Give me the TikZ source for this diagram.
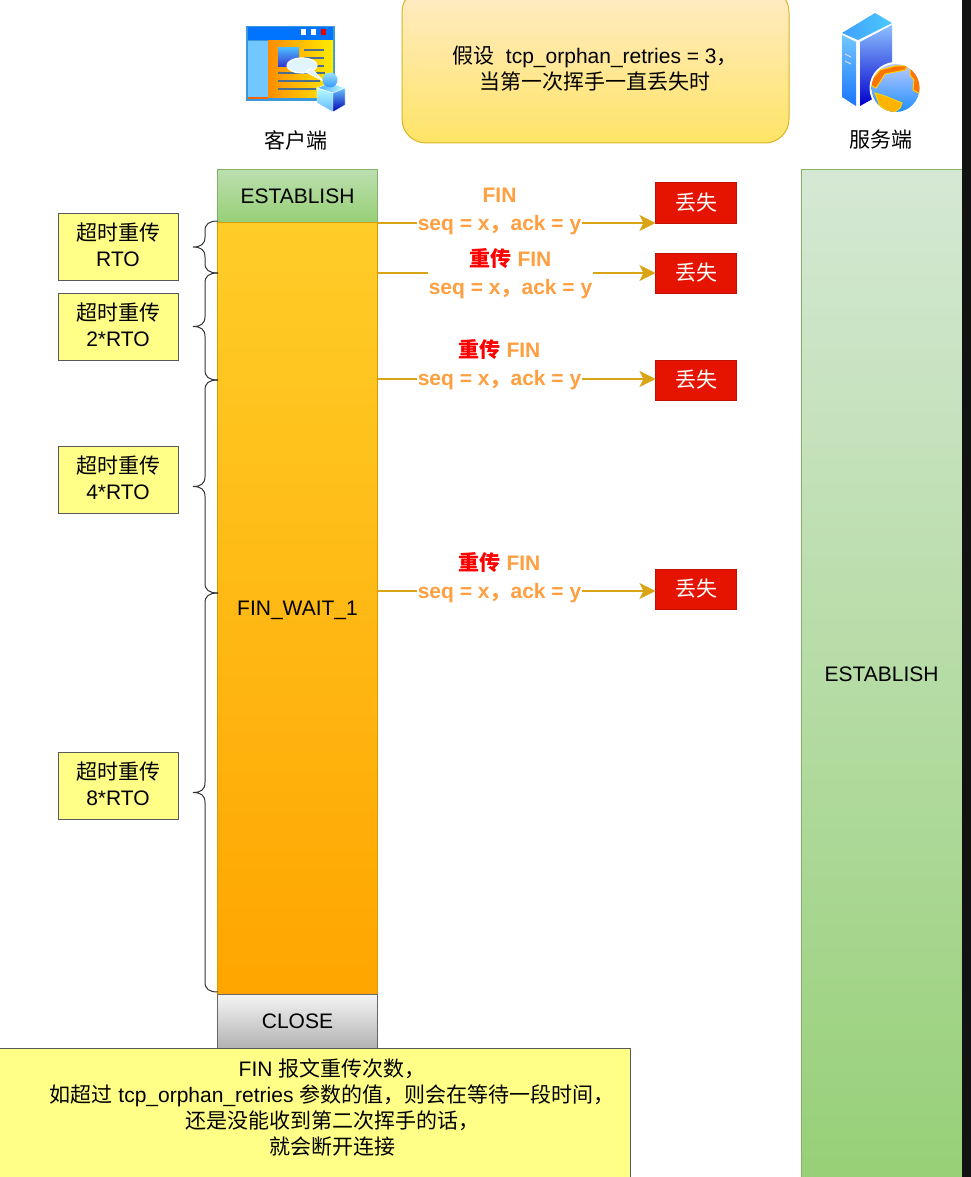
\documentclass[tikz,border=0pt]{standalone}
\usepackage{fontspec}
\setmainfont{Liberation Sans}
\newfontfamily\cjk{Noto Sans CJK SC}
\usepackage{tikz}
\usetikzlibrary{arrows.meta,calc}
\newcommand{\zh}[1]{{\cjk #1}}
\newcommand{\redzh}[1]{{\cjk\color{red} #1}}
\newcommand{\timebrace}[2]{
  \coordinate (bracemid) at ($(#1)!.5!(#2)$);
  \draw [bracepath] (#1) .. controls ($(#1)+(-9,0)$) and ($(#1)+(-13,3)$) .. ($(#1)+(-13,10)$) -- ($(bracemid)+(-13,-10)$) .. controls ($(bracemid)+(-13,-3)$) and ($(bracemid)+(-17,0)$) .. ($(bracemid)+(-25,0)$) .. controls ($(bracemid)+(-17,0)$) and ($(bracemid)+(-13,3)$) .. ($(bracemid)+(-13,10)$) -- ($(#2)+(-13,-10)$) .. controls ($(#2)+(-13,-3)$) and ($(#2)+(-9,0)$) .. (#2);
}
\definecolor{arrowgold}{HTML}{D9A416}
\definecolor{labelorange}{HTML}{FF9F40}
\definecolor{noteyellow}{HTML}{FFFF88}
\definecolor{lostred}{HTML}{E51400}
\definecolor{greentop}{HTML}{D5E8D4}
\definecolor{greenbottom}{HTML}{97D077}
\definecolor{greenline}{HTML}{82B366}
\definecolor{waittop}{HTML}{FFCD28}
\definecolor{waitbottom}{HTML}{FFA500}
\definecolor{waitline}{HTML}{D79B00}
\definecolor{linegray}{HTML}{4A6E8C}
\tikzset{
  bodyfont/.style={font=\fontsize{21}{26}\selectfont},
  statebox/.style={rectangle,inner sep=0,outer sep=0,line width=1,minimum width=160,bodyfont},
  timebox/.style={rectangle,draw=black!65,fill=noteyellow,line width=1,inner sep=0,outer sep=0,minimum width=120,minimum height=67,align=center,text depth=4,bodyfont},
  lostbox/.style={rectangle,draw=lostred!85!black,fill=lostred,text=white,line width=1,inner sep=0,outer sep=0,minimum width=81,minimum height=40,bodyfont},
  finarrow/.style={draw=arrowgold,line width=2.4,-{Stealth[length=16,width=16,inset=4]}},
  finlabel/.style={fill=white,inner sep=1,align=center,text=labelorange,font=\bfseries\fontsize{21}{28}\selectfont},
  bracepath/.style={draw=black!80,line width=1},
  captionlabel/.style={inner sep=0,bodyfont}
}

\begin{document}
\begin{tikzpicture}[x=1pt,y=-1pt]
\useasboundingbox (0,0) rectangle (971,1177);
\clip (0,0) rectangle (971,1177);
\fill [white] (0,0) rectangle (971,1177);

%Client icon
\fill [cyan!70!blue!80] (246,26) rectangle (335,101);
\fill [blue!55!cyan] (248,27) rectangle (333,40);
\fill [white] (300.5,29.5) rectangle (306,35);
\fill [white] (310.5,29.5) rectangle (316,35);
\fill [red!90!black] (320.5,29.5) rectangle (326,35);
\fill [blue!40!cyan!55!white] (248,41) rectangle (268,97);
\shade [left color=orange!90!yellow,right color=yellow!85!orange] (268,41) rectangle (333,98);
\fill [orange!80!red] (248,97) rectangle (268,99);
\shade [top color=blue!40!cyan!70!white,bottom color=blue!60!gray] (278,48) rectangle (299,67);
\draw [linegray,line width=1.5] (304,50) -- (324,50) (304,58) -- (324,58) (304,66) -- (324,66);
\draw [linegray,line width=1.5] (278,73) -- (325,73) (278,81) -- (320,81) (278,89) -- (316,89);
\filldraw [draw=white,fill=cyan!12!white,line width=1.2] (302,65.5) ellipse (15 and 7.5);
\filldraw [draw=white,fill=cyan!12!white,line width=1.2] (306,72) -- (322,80) -- (311,68) -- cycle;
\shade [left color=blue!50!cyan!70!white,right color=cyan!25!white,draw=white] (317,88) -- (330,83) -- (345,88) -- (333,93) -- cycle;
\shade [top color=cyan!30!white,bottom color=blue!50!cyan!60!white,draw=white] (317,88) -- (333,93) -- (333,112) -- (317,103) -- cycle;
\shade [top color=blue!40!cyan!60!white,bottom color=blue!70!black,draw=white] (333,93) -- (345,88) -- (345,105) -- (333,112) -- cycle;
\shade [top color=blue!30!cyan!40!white,bottom color=blue!50!cyan!80!white] (330,80) circle (7.5);

%Server icon
\shade [left color=blue!50!cyan!75!white,right color=cyan!70!blue!70!white] (842,33) -- (875,13) -- (892,23) -- (858,40) -- cycle;
\shade [top color=blue!40!cyan!55!white,bottom color=blue!60!cyan!90!white] (842,35) -- (856,42) -- (856,106) -- (842,97) -- cycle;
\shade [top color=blue!55!cyan!45!white,bottom color=blue!80!black] (860,42) -- (892,25) -- (892,88) -- (860,106) -- cycle;
\draw [white!85!blue,line width=1] (845,54) -- (851,57) (845,61) -- (851,64);
\fill [white] (895.5,88) circle (26);
\begin{scope}
\clip (895.5,88) circle (24);
\shade [top color=cyan!20!blue!25!white,bottom color=blue!50!cyan!90!white] (870,62) rectangle (921,114);
\filldraw [draw=yellow!70!orange,fill=orange!90!red,line width=1] (868,84) -- (880,70) -- (895,66) -- (908,66) -- (905,70) -- (895,72) -- (885,74) -- (880,82) -- (876,88) -- cycle;
\filldraw [draw=yellow!70!orange,fill=orange!90!red,line width=1] (910,66) -- (924,80) -- (922,95) -- (913,90) -- (914,80) -- (910,75) -- cycle;
\filldraw [draw=yellow!70!orange,fill=orange!60!yellow,line width=1] (875,93) -- (885,96) -- (902,103) -- (900,108) -- (892,114) -- (880,106) -- cycle;
\end{scope}

%Captions of the two ends
\node [captionlabel] (clientname) at (296,140) {\zh{客户端}};
\node [captionlabel] (servername) at (881,140) {\zh{服务端}};

%Assumption note
\node [rectangle,rounded corners=24,draw=yellow!60!orange!85!black,top color=yellow!30!orange!22!white,bottom color=yellow!65!orange!60!white,line width=1,inner sep=0,minimum width=387,minimum height=155] (assumebox) at (595.5,65.5) {};
\node [captionlabel,align=center] (assumetext) at (595,68.5) {\zh{假设}~~tcp\_orphan\_retries = 3\zh{，}\\\zh{当第一次挥手一直丢失时}};

%Client states
\node [statebox,draw=greenline,top color=greentop!60!greenbottom,bottom color=greenbottom,minimum height=52] (estclient) at (297.5,196) {ESTABLISH};
\node [statebox,draw=waitline,top color=waittop,bottom color=waitbottom,minimum height=772,text depth=0] (finwait) at (297.5,608) {FIN\_WAIT\_1};
\node [statebox,draw=black!60,top color=black!4,bottom color=black!30,minimum height=54] (closed) at (297.5,1021) {CLOSE};

%Server state
\node [statebox,draw=greenline,top color=greentop,bottom color=greenbottom,minimum width=161,minimum height=1008] (estserver) at (881.5,674) {ESTABLISH};

%Lost packets
\node [lostbox] (lost1) at (696,203) {\zh{丢失}};
\node [lostbox] (lost2) at (696,273) {\zh{丢失}};
\node [lostbox] (lost3) at (696,380) {\zh{丢失}};
\node [lostbox] (lost4) at (696,589) {\zh{丢失}};

%Arrow starts
\coordinate (send1) at (378,223);
\coordinate (send2) at (378,273);
\coordinate (send3) at (378,379);
\coordinate (send4) at (378,591);
\coordinate (stop1) at (lost1.west |- send1);
\coordinate (stop2) at (lost2.west |- send2);
\coordinate (stop3) at (lost3.west |- send3);
\coordinate (stop4) at (lost4.west |- send4);

\draw [finarrow] (send1) -- (stop1);
\draw [finarrow] (send2) -- (stop2);
\draw [finarrow] (send3) -- (stop3);
\draw [finarrow] (send4) -- (stop4);

\node [finlabel] (fin1) at (499.5,211) {FIN\\seq = x\zh{，}ack = y};
\node [finlabel] (fin2) at (510.5,274) {\redzh{\bfseries 重传} FIN\\seq = x\zh{，}ack = y};
\node [finlabel] (fin3) at (499.5,365) {\redzh{\bfseries 重传} FIN\\seq = x\zh{，}ack = y};
\node [finlabel] (fin4) at (499.5,578) {\redzh{\bfseries 重传} FIN\\seq = x\zh{，}ack = y};

%Retransmission timers
\node [timebox] (timer1) at (118,246.5) {\zh{超时重传}\\RTO};
\node [timebox] (timer2) at (118,326.5) {\zh{超时重传}\\2*RTO};
\node [timebox] (timer3) at (118,480) {\zh{超时重传}\\4*RTO};
\node [timebox] (timer4) at (118,786) {\zh{超时重传}\\8*RTO};

%Brace ends on the left side of the state bar
\coordinate (tick0) at (218,221);
\coordinate (tick1) at (218,273);
\coordinate (tick2) at (218,380);
\coordinate (tick3) at (218,593);
\coordinate (tick4) at (218,992);

\timebrace{tick0}{tick1}
\timebrace{tick1}{tick2}
\timebrace{tick2}{tick3}
\timebrace{tick3}{tick4}

%Bottom note
\node [rectangle,draw=black!65,fill=noteyellow,line width=1,inner sep=0,minimum width=660,minimum height=160] (closebox) at (300,1128) {};
\node [captionlabel,align=center] (closetext) at (332,1107) {FIN \zh{报文重传次数，}\\\zh{如超过} tcp\_orphan\_retries \zh{参数的值，则会在等待一段时间，}\\\zh{还是没能收到第二次挥手的话，}\\\zh{就会断开连接}};

%Dark strip on the right edge
\fill [black!93] (962,0) rectangle (971,1177);

\end{tikzpicture}
\end{document}
